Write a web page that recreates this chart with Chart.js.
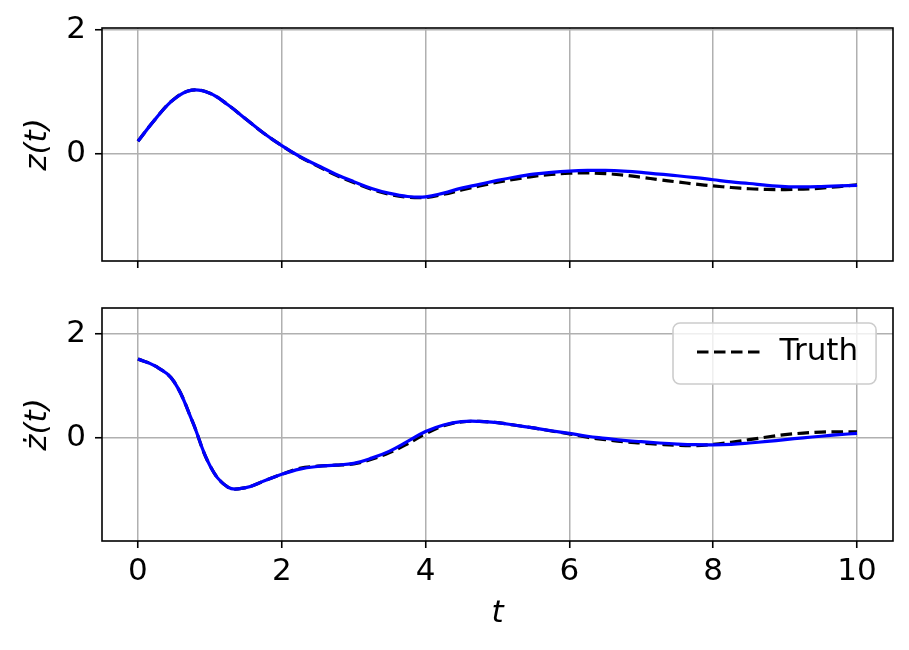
<!DOCTYPE html>
<html><head><meta charset="utf-8">
<script src="https://cdn.jsdelivr.net/npm/chart.js@4"></script>
<style>
html,body{margin:0;padding:0;background:#fff;}
#wrap{position:relative;width:909px;height:650px;background:#fff;}
canvas{position:absolute;left:0;}
#c1{top:0;} #c2{top:290px;}
</style></head><body>
<div id="wrap"><canvas id="c1" width="909" height="290"></canvas><canvas id="c2" width="909" height="360"></canvas></div>
<script>
const tValues = [0,0.25,0.5,0.75,1,1.25,1.5,1.75,2,2.25,2.5,2.75,3,3.25,3.5,3.75,4,4.25,4.5,4.75,5,5.25,5.5,5.75,6,6.25,6.5,6.75,7,7.25,7.5,7.75,8,8.25,8.5,8.75,9,9.25,9.5,9.75,10];
const zPred = [0.20,0.57,0.88,1.025,0.975,0.79,0.56,0.33,0.13,-0.045,-0.19,-0.33,-0.45,-0.56,-0.64,-0.69,-0.695,-0.635,-0.555,-0.495,-0.43,-0.375,-0.33,-0.30,-0.28,-0.27,-0.27,-0.28,-0.30,-0.33,-0.355,-0.385,-0.42,-0.455,-0.48,-0.51,-0.53,-0.535,-0.53,-0.52,-0.51];
const zTruth = [0.20,0.57,0.88,1.025,0.975,0.79,0.56,0.33,0.13,-0.05,-0.20,-0.345,-0.465,-0.575,-0.655,-0.70,-0.705,-0.655,-0.585,-0.52,-0.46,-0.41,-0.365,-0.335,-0.315,-0.31,-0.32,-0.345,-0.38,-0.42,-0.455,-0.49,-0.52,-0.545,-0.565,-0.575,-0.578,-0.57,-0.555,-0.53,-0.50];
const zdPred = [1.51,1.37,1.08,0.34,-0.53,-0.945,-0.955,-0.83,-0.70,-0.60,-0.55,-0.525,-0.49,-0.39,-0.255,-0.07,0.12,0.245,0.31,0.315,0.29,0.24,0.19,0.135,0.085,0.03,-0.01,-0.05,-0.075,-0.10,-0.12,-0.133,-0.135,-0.125,-0.10,-0.07,-0.035,0.0,0.03,0.06,0.085];
const zdTruth = [1.51,1.37,1.08,0.34,-0.53,-0.945,-0.955,-0.83,-0.70,-0.585,-0.545,-0.525,-0.50,-0.41,-0.285,-0.115,0.08,0.23,0.305,0.315,0.29,0.24,0.19,0.13,0.075,0.01,-0.035,-0.075,-0.10,-0.125,-0.145,-0.15,-0.125,-0.085,-0.035,0.015,0.06,0.09,0.11,0.115,0.115];
const xTicks = [0,2,4,6,8,10];
const yTicks = [0,2];
const truthLabel = 'Truth';
const predLabel = 'Model';
const yLabelTop = 'z(t)';
const yLabelBottom = 'ż(t)';
const xLabel = 't';

Chart.defaults.font.family = "'DejaVu Sans', sans-serif";
Chart.defaults.font.size = 31;
Chart.defaults.color = '#000';

const pts = arr => tValues.map((t, i) => ({x: t, y: arr[i]}));

const framePlugin = {
  id: 'frame',
  afterDraw(chart) {
    const {ctx, chartArea: a} = chart;
    ctx.save();
    ctx.strokeStyle = '#000';
    ctx.lineWidth = 1.6;
    ctx.strokeRect(a.left, a.top, a.right - a.left, a.bottom - a.top);
    ctx.restore();
  }
};

const legendBoxPlugin = {
  id: 'legendBox',
  beforeLayout(chart) {
    const lg = chart.legend;
    if (lg && !lg._zPatched) {
      lg._layers = () => [{z: 1, draw: (ca) => lg.draw(ca)}];
      lg._zPatched = true;
    }
  },
  afterLayout(chart) {
    const lg = chart.legend;
    if (!lg) return;
    const a = chart.chartArea;
    const pad = lg.options.labels.padding;
    lg.left = a.right - 196 - pad;
    lg.top = a.top + 28.5 - pad;
  },
  afterDatasetsDraw(chart) {
    const lg = chart.legend;
    if (!lg || !lg.legendHitBoxes || !lg.legendHitBoxes.length) return;
    const hb = lg.legendHitBoxes[0];
    const x0 = hb.left - 24, x1 = hb.left + hb.width + 18;
    const y0 = hb.top - 13.5, y1 = hb.top + hb.height + 16.5;
    const ctx = chart.ctx;
    ctx.save();
    ctx.beginPath();
    ctx.roundRect(x0, y0, x1 - x0, y1 - y0, 7);
    ctx.fillStyle = 'rgba(255,255,255,0.8)';
    ctx.fill();
    ctx.strokeStyle = '#cccccc';
    ctx.lineWidth = 1.6;
    ctx.stroke();
    ctx.restore();
  }
};

function makeChart(id, predArr, truthArr, yMin, yMax, yTitle, showXLabels, xHeight, padTop, showLegend) {
  return new Chart(document.getElementById(id), {
    type: 'line',
    data: {
      datasets: [
        {label: predLabel, data: pts(predArr), borderColor: '#0000ff', borderWidth: 3.2, pointRadius: 0, tension: 0.4, fill: false},
        {label: truthLabel, data: pts(truthArr), borderColor: '#000000', borderWidth: 3.2, borderDash: [11.5, 5.5], pointRadius: 0, tension: 0.4, fill: false}
      ]
    },
    options: {
      responsive: false,
      animation: false,
      devicePixelRatio: 1,
      layout: {padding: {top: padTop, right: 16, left: 0, bottom: 0}, autoPadding: false},
      plugins: {
        tooltip: {enabled: false},
        legend: {
          display: showLegend,
          position: 'chartArea',
          align: 'start',
          labels: {
            usePointStyle: true,
            pointStyle: 'line',
            pointStyleWidth: 67,
            padding: 10,
            color: '#000',
            font: {size: 31},
            generateLabels: chart => {
              const items = Chart.defaults.plugins.legend.labels.generateLabels(chart);
              items.forEach(it => {
                const ds = chart.data.datasets[it.datasetIndex];
                it.lineDash = ds.borderDash || [];
                it.lineWidth = ds.borderWidth;
                it.strokeStyle = ds.borderColor;
                it.fillStyle = ds.borderColor;
              });
              return items;
            },
            filter: item => item.text === truthLabel
          }
        }
      },
      scales: {
        x: {
          type: 'linear',
          min: -0.5, max: 10.5,
          afterBuildTicks: s => { s.ticks = xTicks.map(v => ({value: v})); },
          afterFit: s => { s.height = xHeight; s.paddingLeft = 0; s.paddingRight = 0; },
          grid: {color: '#b0b0b0', lineWidth: 1.5, tickColor: '#000', tickWidth: 1.6, tickLength: 7},
          border: {display: false},
          ticks: {padding: 5, color: '#000', font: {size: 31}, maxRotation: 0,
                  callback: v => showXLabels ? String(v) : ''},
          title: {display: showXLabels, text: xLabel, color: '#000', font: {size: 31, style: 'italic'}, padding: {top: 0, bottom: 17}}
        },
        y: {
          type: 'linear',
          min: yMin, max: yMax,
          afterBuildTicks: s => { s.ticks = yTicks.map(v => ({value: v})); },
          afterFit: s => { s.width = 102; s.paddingTop = 0; s.paddingBottom = 0; },
          grid: {color: '#b0b0b0', lineWidth: 1.5, tickColor: '#000', tickWidth: 1.6, tickLength: 7},
          border: {display: false},
          ticks: {padding: 9, color: '#000', font: {size: 31}, callback: v => String(v)},
          title: {display: true, text: yTitle, color: '#000', font: {size: 31, style: 'italic'}, padding: {top: 19, bottom: 0}}
        }
      }
    },
    plugins: showLegend ? [legendBoxPlugin, framePlugin] : [framePlugin]
  });
}

makeChart('c1', zPred, zTruth, -1.73, 2.027, yLabelTop, false, 29, 28, false);
makeChart('c2', zdPred, zdTruth, -1.98, 2.49, yLabelBottom, true, 109, 18, true);
</script>
</body></html>
